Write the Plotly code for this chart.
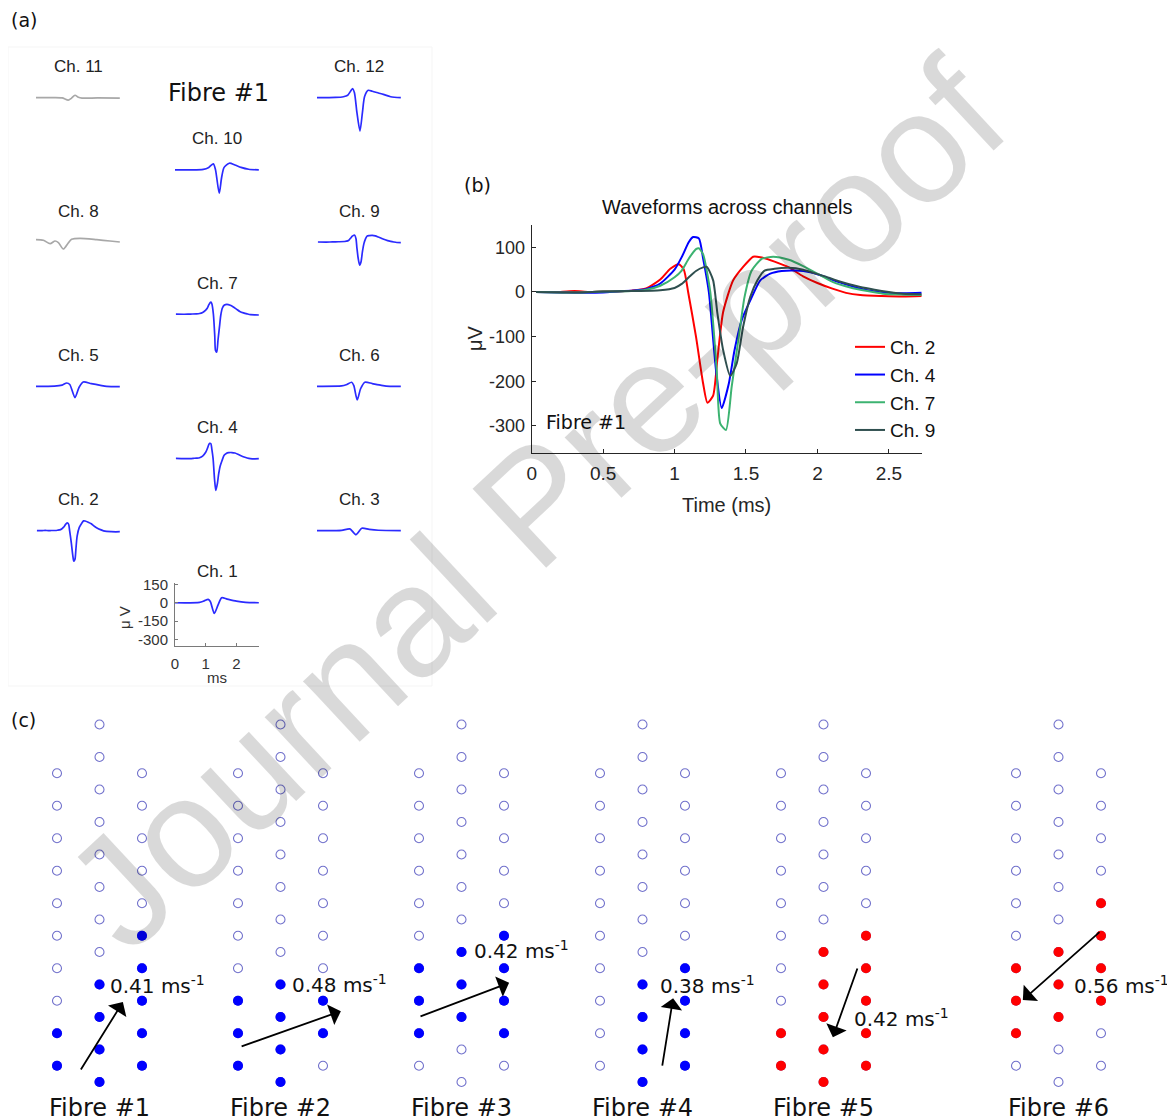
import plotly.graph_objects as go

W, H = 1175, 1120

# ---------------- Panel (b) data: waveforms across channels (Fibre #1), time in ms, amplitude in µV
ch2_t = [0.03, 0.2, 0.3, 0.4, 0.5, 0.6, 0.7, 0.8, 0.9, 0.97, 1.03, 1.065, 1.095, 1.15, 1.2, 1.23, 1.27, 1.3, 1.34, 1.41, 1.48, 1.55, 1.6, 1.7, 1.8, 1.9, 2.0, 2.1, 2.2, 2.3, 2.45, 2.6, 2.73]
ch2_v = [0, 0, 2, 0, 1, 1, 3, 8, 28, 52, 62, 50, 0, -100, -205, -248, -232, -150, -45, 26, 56, 79, 78, 68, 55, 35, 20, 8, -2, -7, -9, -10, -9]

ch4_t = [0.03, 0.2, 0.4, 0.5, 0.6, 0.7, 0.8, 0.9, 1.0, 1.05, 1.1, 1.13, 1.17, 1.2, 1.24, 1.29, 1.33, 1.38, 1.42, 1.47, 1.53, 1.6, 1.67, 1.75, 1.85, 1.95, 2.05, 2.15, 2.25, 2.35, 2.45, 2.6, 2.73]
ch4_v = [0, -1, -2, -1, 1, 3, 6, 19, 50, 78, 112, 123, 120, 75, 0, -175, -260, -205, -130, -63, -19, 26, 41, 47, 48, 44, 34, 22, 12, 4, -1, -3, -2]

ch7_t = [0.03, 0.3, 0.5, 0.7, 0.8, 0.9, 1.0, 1.05, 1.1, 1.15, 1.17, 1.2, 1.25, 1.295, 1.32, 1.36, 1.40, 1.45, 1.49, 1.54, 1.61, 1.69, 1.8, 1.9, 2.0, 2.11, 2.23, 2.35, 2.46, 2.6, 2.73]
ch7_v = [0, -1, 1, 2, 5, 14, 33, 48, 75, 96, 98, 84, 0, -175, -295, -309, -212, -100, -11, 48, 74, 79, 72, 58, 41, 22, 10, 2, -4, -6, -7]

ch9_t = [0.03, 0.3, 0.5, 0.7, 0.9, 1.0, 1.05, 1.1, 1.15, 1.2, 1.226, 1.27, 1.3, 1.34, 1.39, 1.435, 1.48, 1.53, 1.58, 1.63, 1.7, 1.8, 1.9, 2.0, 2.08, 2.15, 2.3, 2.4, 2.5, 2.6, 2.73]
ch9_v = [0, -1, 1, 2, 4, 9, 18, 33, 47, 55, 56, 26, -48, -130, -188, -160, -78, -11, 26, 48, 52, 54, 50, 40, 32, 24, 11, 5, 0, -4, -5]

# ---------------- Panel (a) data: other channels
ch1_t = [0.0, 0.8, 0.95, 1.08, 1.15, 1.28, 1.4, 1.52, 1.7, 2.0, 2.3, 2.73]
ch1_v = [0, 3, 15, 27, 10, -87, -20, 41, 30, 13, 3, 0]
ch3_t = [0.0, 0.8, 1.07, 1.27, 1.46, 1.7, 2.0, 2.73]
ch3_v = [0, 2, 14, -33, 19, 10, 3, 0]
ch5_t = [0.0, 0.6, 0.85, 1.0, 1.1, 1.27, 1.4, 1.54, 1.8, 2.1, 2.3, 2.73]
ch5_v = [0, 2, 10, 27, 15, -92, -10, 35, 22, 8, 0, -2]
ch6_t = [0.0, 0.8, 0.95, 1.13, 1.2, 1.31, 1.42, 1.56, 1.8, 2.1, 2.38, 2.73]
ch6_v = [0, 3, 12, 33, 5, -111, -20, 33, 22, 8, 0, 0]
ch8_t = [0.0, 0.24, 0.46, 0.62, 0.73, 0.89, 1.05, 1.16, 1.43, 1.98, 2.41, 2.73]
ch8_v = [19, 14, -14, 8, -5, -57, -8, 22, 30, 19, 8, 0]
ch10_t = [0.0, 0.5, 0.92, 1.1, 1.25, 1.32, 1.44, 1.52, 1.6, 1.77, 1.95, 2.15, 2.4, 2.73]
ch10_v = [0, 0, 4, 20, 49, 0, -190, -60, 20, 54, 40, 20, 5, 0]
ch11_t = [0.0, 0.5, 0.85, 1.05, 1.15, 1.27, 1.38, 1.5, 2.0, 2.73]
ch11_v = [0, 0, -2, -20, -5, 20, 3, -3, -2, -3]
ch12_t = [0.0, 0.6, 0.86, 1.0, 1.16, 1.22, 1.3, 1.4, 1.48, 1.55, 1.67, 1.8, 2.0, 2.16, 2.4, 2.73]
ch12_v = [0, 2, 8, 20, 73, 40, -120, -271, -120, 10, 60, 52, 38, 27, 8, 0]

a_channels = [11, 12, 10, 8, 9, 7, 5, 6, 4, 2, 3, 1]
a_data = {1: (ch1_t, ch1_v), 2: (ch2_t, ch2_v), 3: (ch3_t, ch3_v), 4: (ch4_t, ch4_v),
          5: (ch5_t, ch5_v), 6: (ch6_t, ch6_v), 7: (ch7_t, ch7_v), 8: (ch8_t, ch8_v),
          9: (ch9_t, ch9_v), 10: (ch10_t, ch10_v), 11: (ch11_t, ch11_v), 12: (ch12_t, ch12_v)}
a_inactive = [11, 8]

# ---------------- Panel (c) data: electrode array activation per fibre
side_rows = [0.5, 1.5, 2.5, 3.5, 4.5, 5.5, 6.5, 7.5, 8.5, 9.5]
mid_rows = [0, 1, 2, 3, 4, 5, 6, 7, 8, 9, 10, 11]
fib_left = [[0.5, 1.5], [0.5, 1.5, 2.5], [1.5, 2.5, 3.5], [], [0.5, 1.5], [1.5, 2.5, 3.5]]
fib_mid = [[0, 1, 2, 3], [0, 1, 2, 3], [2, 3, 4], [0, 1, 2, 3], [0, 1, 2, 3, 4], [2, 3, 4]]
fib_right = [[0.5, 1.5, 2.5, 3.5, 4.5], [1.5, 2.5], [1.5, 2.5, 3.5, 4.5], [0.5, 1.5, 2.5, 3.5],
             [0.5, 1.5, 2.5, 3.5, 4.5], [2.5, 3.5, 4.5, 5.5]]
velocity = ["0.41", "0.48", "0.42", "0.38", "0.42", "0.56"]
arrow_x0 = [0.54, 0.05, 0.0, 1.46, 1.81, 2.0]
arrow_y0 = [0.34, 1.08, 2.0, 0.46, 3.54, 4.65]
arrow_x1 = [1.55, 2.42, 2.12, 1.72, 1.22, 0.16]
arrow_y1 = [2.46, 2.18, 3.05, 2.58, 1.38, 2.52]

# ---------------- styles / layout helpers
SANS = "Liberation Sans, Arial, sans-serif"
VERD = "DejaVu Sans, Verdana, sans-serif"
TXT = "#262626"
BLUE_A = "#2b2bff"
GRAY_A = "#a8a8a8"
CH_COLORS = {2: "#ff0000", 4: "#0000ff", 7: "#3cb371", 9: "#2f4f4f"}
FIB_COLORS = ["#0000ff", "#0000ff", "#0000ff", "#0000ff", "#ff0000", "#ff0000"]
OPEN_COLOR = "#7272cc"
OFF = 8  # page body margin compensation


def pxx(p):
    return (p - OFF) / W


def pxy(p):
    return 1 - (p - OFF) / H


def names(i):
    if i == 1:
        return "x", "y", "xaxis", "yaxis"
    return f"x{i}", f"y{i}", f"xaxis{i}", f"yaxis{i}"


fig = go.Figure()
layout = dict(width=W, height=H, margin=dict(l=0, r=0, t=0, b=0, autoexpand=False),
              paper_bgcolor="white", plot_bgcolor="rgba(0,0,0,0)")
ann = []
shapes = []

# ---------------- Panel (a)
A_COL_X0 = [36, 175, 317]
A_POS = {11: (0, 0), 12: (2, 0), 10: (1, 1), 8: (0, 2), 9: (2, 2), 7: (1, 3),
         5: (0, 4), 6: (2, 4), 4: (1, 5), 2: (0, 6), 3: (2, 6), 1: (1, 7)}
PX_MS, PX_UV = 30.7, 0.123
AX_R, AY_R = [0, 2.75], [-350, 160]

shapes.append(dict(type="rect", xref="paper", yref="paper", x0=pxx(8), x1=pxx(432),
                   y0=pxy(686), y1=pxy(47), line=dict(color="#f5f5f5", width=1), layer="below"))

for i, ch in enumerate(a_channels, start=1):
    xn, yn, xk, yk = names(i)
    col, row = A_POS[ch]
    base = 97.7 + 72.15 * row
    x0 = A_COL_X0[col]
    x1 = x0 + (AX_R[1] - AX_R[0]) * PX_MS
    ytop = base - AY_R[1] * PX_UV
    ybot = base - AY_R[0] * PX_UV
    t, v = a_data[ch]
    fig.add_trace(go.Scatter(x=t, y=v, mode="lines", xaxis=xn, yaxis=yn, showlegend=False,
                             line=dict(color=GRAY_A if ch in a_inactive else BLUE_A, width=1.7,
                                       shape="spline", smoothing=0.7), hoverinfo="skip"))
    show = ch == 1
    layout[xk] = dict(domain=[pxx(x0), pxx(x1)], range=AX_R, anchor=yn, visible=show, automargin=False,
                      showgrid=False, zeroline=False, showline=True, linecolor="#7a7a7a", linewidth=1,
                      ticks="inside", ticklen=3, tickcolor="#7a7a7a",
                      tickvals=[0, 1, 2], ticktext=["0", "1", "2"],
                      tickfont=dict(family=SANS, size=15, color="#333"), ticklabelstandoff=4)
    layout[yk] = dict(domain=[pxy(ybot), pxy(ytop)], range=AY_R, anchor=xn, visible=show, automargin=False,
                      showgrid=False, zeroline=False, showline=True, linecolor="#7a7a7a", linewidth=1,
                      ticks="inside", ticklen=3, tickcolor="#7a7a7a",
                      tickvals=[150, 0, -150, -300], ticktext=["150", "0", "-150", "-300"],
                      tickfont=dict(family=SANS, size=15, color="#333"), ticklabelstandoff=3)
    ann.append(dict(text=f"Ch. {ch}", xref="paper", yref="paper", x=pxx((x0 + x1) / 2), y=pxy(base - 31),
                    xanchor="center", yanchor="middle", showarrow=False,
                    font=dict(family=SANS, size=17, color="#222")))

ann.append(dict(text="ms", xref="paper", yref="paper", x=pxx(217), y=pxy(677), xanchor="center",
                yanchor="middle", showarrow=False, font=dict(family=SANS, size=15, color="#333")))
ann.append(dict(text="μ V", xref="paper", yref="paper", x=pxx(124), y=pxy(618), xanchor="center",
                yanchor="middle", showarrow=False, textangle=-90, font=dict(family=SANS, size=15, color="#333")))
ann.append(dict(text="Fibre #1", xref="paper", yref="paper", x=pxx(218), y=pxy(93), xanchor="center",
                yanchor="middle", showarrow=False, font=dict(family=VERD, size=24, color="#111")))

# ---------------- Panel (b)
bi = 13
xn, yn, xk, yk = names(bi)
for ch, t, v in [(2, ch2_t, ch2_v), (4, ch4_t, ch4_v), (7, ch7_t, ch7_v), (9, ch9_t, ch9_v)]:
    fig.add_trace(go.Scatter(x=t, y=v, mode="lines", name=f"Ch. {ch}", xaxis=xn, yaxis=yn,
                             line=dict(color=CH_COLORS[ch], width=2, shape="spline", smoothing=0.6),
                             hoverinfo="skip"))
layout[xk] = dict(domain=[pxx(531.7), pxx(921.7)], range=[0, 2.73], anchor=yn, automargin=False,
                  showgrid=False, zeroline=False, showline=True, linecolor=TXT, linewidth=1,
                  ticks="inside", ticklen=4, tickcolor=TXT,
                  tickvals=[0, 0.5, 1, 1.5, 2, 2.5], ticktext=["0", "0.5", "1", "1.5", "2", "2.5"],
                  tickfont=dict(family=SANS, size=19, color=TXT), ticklabelstandoff=3)
layout[yk] = dict(domain=[pxy(452.7), pxy(225)], range=[-360, 150], anchor=xn, automargin=False,
                  showgrid=False, zeroline=False, showline=True, linecolor=TXT, linewidth=1,
                  ticks="inside", ticklen=4, tickcolor=TXT,
                  tickvals=[-300, -200, -100, 0, 100], ticktext=["-300", "-200", "-100", "0", "100"],
                  tickfont=dict(family=SANS, size=18, color=TXT), ticklabelstandoff=2)
ann.append(dict(text="Waveforms across channels", xref="paper", yref="paper", x=pxx(727), y=pxy(207),
                xanchor="center", yanchor="middle", showarrow=False,
                font=dict(family=SANS, size=20, color="#111")))
ann.append(dict(text="Time (ms)", xref="paper", yref="paper", x=pxx(727), y=pxy(505),
                xanchor="center", yanchor="middle", showarrow=False,
                font=dict(family=SANS, size=20, color=TXT)))
ann.append(dict(text="μV", xref="paper", yref="paper", x=pxx(475), y=pxy(338),
                xanchor="center", yanchor="middle", showarrow=False, textangle=-90,
                font=dict(family=SANS, size=20, color=TXT)))
ann.append(dict(text="Fibre #1", xref=xn, yref=yn, x=0.086, y=-291, xanchor="left",
                yanchor="middle", showarrow=False, font=dict(family=VERD, size=19, color="#111")))
layout["legend"] = dict(x=pxx(850), y=pxy(328), xanchor="left", yanchor="top", bgcolor="rgba(0,0,0,0)",
                        itemwidth=30, tracegroupgap=0, font=dict(family=SANS, size=19, color="#111"))

# ---------------- Panel (c)
FIB_LEFT_PX = [57, 238, 419, 600, 781, 1016]
PITCH_X, PITCH_Y = 42.5, 32.5
LBL_X = [1.2, 1.22, 1.25, 1.36, 1.67, 1.32]
LBL_Y = [2.98, 3.02, 4.06, 2.98, 1.97, 2.98]
open_x = [0] * len(side_rows) + [1] * len(mid_rows) + [2] * len(side_rows)
open_y = side_rows + mid_rows + side_rows
for f in range(6):
    i = 14 + f
    xn, yn, xk, yk = names(i)
    fig.add_trace(go.Scatter(x=open_x, y=open_y, mode="markers", xaxis=xn, yaxis=yn, showlegend=False,
                             marker=dict(symbol="circle-open", size=9, color=OPEN_COLOR, line=dict(width=1.1)),
                             hoverinfo="skip"))
    fx = [0] * len(fib_left[f]) + [1] * len(fib_mid[f]) + [2] * len(fib_right[f])
    fy = fib_left[f] + fib_mid[f] + fib_right[f]
    fig.add_trace(go.Scatter(x=fx, y=fy, mode="markers", xaxis=xn, yaxis=yn, showlegend=False,
                             marker=dict(symbol="circle", size=10, color=FIB_COLORS[f], line=dict(width=0)),
                             hoverinfo="skip"))
    x0 = FIB_LEFT_PX[f] - PITCH_X
    layout[xk] = dict(domain=[pxx(x0), pxx(x0 + 4 * PITCH_X)], range=[-1, 3], anchor=yn, visible=False,
                      automargin=False)
    layout[yk] = dict(domain=[pxy(1082 + PITCH_Y), pxy(1082 - 12 * PITCH_Y)], range=[-1, 12],
                      anchor=xn, visible=False, automargin=False)
    ann.append(dict(x=arrow_x1[f], y=arrow_y1[f], ax=arrow_x0[f], ay=arrow_y0[f], xref=xn, yref=yn,
                    axref=xn, ayref=yn, text="", showarrow=True, arrowhead=1, arrowsize=2.0,
                    arrowwidth=1.8, arrowcolor="black", standoff=0))
    ann.append(dict(text=f"{velocity[f]} ms<sup>-1</sup>", xref=xn, yref=yn, x=LBL_X[f], y=LBL_Y[f],
                    xanchor="left", yanchor="middle", showarrow=False,
                    font=dict(family=VERD, size=20, color="#111")))
    ann.append(dict(text=f"Fibre #{f + 1}", xref=xn, yref=yn, x=1, y=-0.8, xanchor="center",
                    yanchor="middle", showarrow=False, font=dict(family=VERD, size=24, color="#111")))

# ---------------- panel letters
for lbl, x, y in [("(a)", 9, 20), ("(b)", 462, 185), ("(c)", 9, 720)]:
    ann.append(dict(text=lbl, xref="paper", yref="paper", x=pxx(x), y=pxy(y), xanchor="left",
                    yanchor="middle", showarrow=False, font=dict(family=VERD, size=19, color="#111")))

# ---------------- watermark
ann.append(dict(text="Journal Pre-proof", xref="paper", yref="paper", x=pxx(534), y=pxy(504),
                xanchor="center", yanchor="middle", showarrow=False, textangle=-43,
                font=dict(family=SANS, size=157, color="rgba(0,0,0,0.15)")))

layout["annotations"] = ann
layout["shapes"] = shapes
fig.update_layout(**layout)
fig.write_html("out.html")
